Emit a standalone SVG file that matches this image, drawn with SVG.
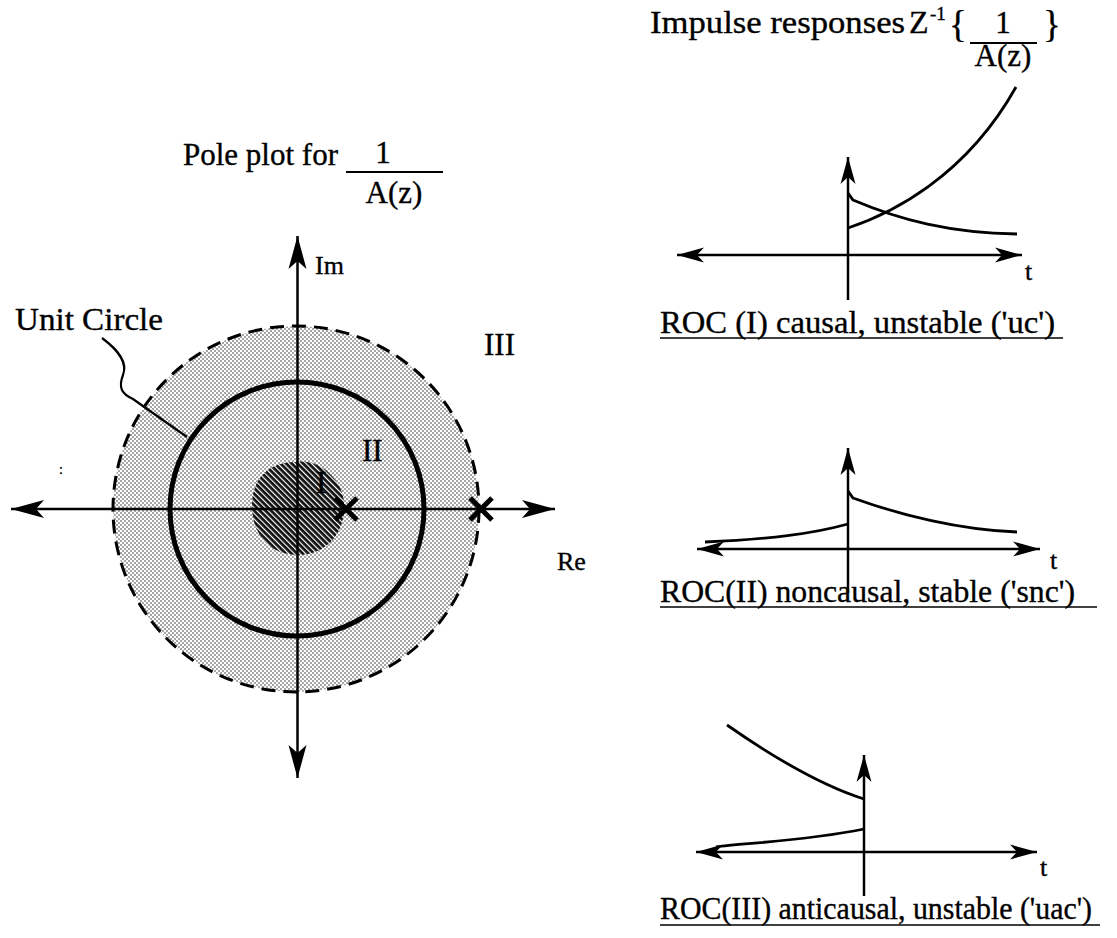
<svg xmlns="http://www.w3.org/2000/svg" width="1117" height="938" viewBox="0 0 1117 938">
<style>
text{font-family:"Liberation Serif","Times New Roman",serif;fill:#000;stroke:#000;stroke-width:0.35}
.t31{font-size:32px}
.t30{font-size:31px}
.t25{font-size:26px}
.ax{stroke:#000;stroke-width:2.5;fill:none}
.cv{stroke:#000;stroke-width:2.8;fill:none}
.ul{stroke:#000;stroke-width:1.5}
</style>
<defs>
<pattern id="dots" width="4" height="4" patternUnits="userSpaceOnUse">
<rect width="4" height="4" fill="#fff"/>
<circle cx="1" cy="1" r="0.8" fill="#333"/>
<circle cx="3" cy="3" r="0.8" fill="#333"/>
</pattern>
<pattern id="hatch" width="4" height="4" patternUnits="userSpaceOnUse" patternTransform="rotate(45)">
<rect width="4" height="4" fill="#fff"/>
<rect x="0" y="0" width="4" height="2.8" fill="#111"/>
</pattern>
<marker id="ahL" viewBox="-36 -10 37 20" refX="0" refY="0" markerWidth="37" markerHeight="20" markerUnits="userSpaceOnUse" orient="auto-start-reverse">
<path d="M0,0 L-33,-9 L-25,0 L-33,9 Z" fill="#000"/>
</marker>
<marker id="ahS" viewBox="-30 -8 31 16" refX="0" refY="0" markerWidth="31" markerHeight="16" markerUnits="userSpaceOnUse" orient="auto-start-reverse">
<path d="M0,0 L-27,-7.5 L-20,0 L-27,7.5 Z" fill="#000"/>
</marker>
</defs>
<rect width="1117" height="938" fill="#fff"/>

<g id="pole-plot-title">
<text class="t30" x="338" y="165" text-anchor="end">Pole plot for</text>
<text class="t30" x="383" y="163" text-anchor="middle">1</text>
<line x1="346" y1="172" x2="443" y2="172" stroke="#000" stroke-width="1.8"/>
<text class="t30" x="394" y="203" text-anchor="middle">A(z)</text>
</g>

<g id="region-III">
<circle cx="296" cy="509" r="183" fill="url(#dots)" stroke="#000" stroke-width="3" stroke-dasharray="14 8"/>
</g>
<g id="unit-circle">
<circle cx="297" cy="509" r="127" fill="none" stroke="#000" stroke-width="5"/>
</g>
<g id="region-I">
<path d="M252,505 C252,480 268,462 295,462 C310,460 322,466 330,474 C340,484 345,495 344,510 C343,535 325,555 298,555 C270,555 252,535 252,505 Z" fill="url(#hatch)"/>
</g>

<g id="connectors">
<line class="ax" x1="297.5" y1="778" x2="297.5" y2="236" marker-start="url(#ahL)" marker-end="url(#ahL)"/>
<line class="ax" x1="11" y1="509" x2="555" y2="509" marker-start="url(#ahL)" marker-end="url(#ahL)"/>
<path d="M102,338 C118,350 128,362 123,375 C118,388 122,394 133,399 L187,437" fill="none" stroke="#000" stroke-width="2.2"/>
</g>

<g id="poles">
<path d="M335,498 L357,520 M357,498 L335,520" stroke="#000" stroke-width="5"/>
<path d="M470,498 L492,520 M492,498 L470,520" stroke="#000" stroke-width="5"/>
</g>

<g id="pole-labels">
<text class="t25" x="315" y="274">Im</text>
<text class="t25" x="557" y="570">Re</text>
<text class="t31" x="15" y="330" textLength="148" lengthAdjust="spacingAndGlyphs">Unit Circle</text>
<text class="t30" x="484" y="355">III</text>
<text class="t30" x="362" y="461">II</text>
<text class="t30" x="316" y="493" fill="#222">I</text>
<text x="59" y="474" style="font-size:14px">:</text>
</g>

<g id="impulse-title">
<text class="t31" x="650" y="33" textLength="255" lengthAdjust="spacingAndGlyphs">Impulse responses</text>
<text class="t31" x="909" y="33">Z</text>
<text x="930" y="20" style="font-size:19px">-1</text>
<text x="949" y="37" style="font-size:37px">{</text>
<text class="t30" x="1003" y="33" text-anchor="middle">1</text>
<line x1="970" y1="43" x2="1037" y2="43" stroke="#000" stroke-width="1.8"/>
<text class="t30" x="1003" y="66" text-anchor="middle">A(z)</text>
<text x="1043" y="37" style="font-size:37px">}</text>
</g>

<g id="plot-uc">
<line class="ax" x1="848" y1="300" x2="848" y2="157" marker-end="url(#ahS)"/>
<line class="ax" x1="677" y1="255" x2="1022" y2="255" marker-start="url(#ahS)" marker-end="url(#ahS)"/>
<path class="cv" d="M848,228 C890,214 965,178 1016,87"/>
<path class="cv" d="M848,193 L853,200 C900,220 950,233 1017,234"/>
<text class="t25" x="1025" y="280">t</text>
<text class="t31" x="660" y="333" textLength="395" lengthAdjust="spacingAndGlyphs">ROC (I) causal, unstable ('uc')</text>
<line class="ul" x1="660" y1="338" x2="1063" y2="338"/>
</g>

<g id="plot-snc">
<line class="ax" x1="848" y1="593" x2="848" y2="448" marker-end="url(#ahS)"/>
<line class="ax" x1="697" y1="549" x2="1040" y2="549" marker-start="url(#ahS)" marker-end="url(#ahS)"/>
<path class="cv" d="M848,491 L853,498 C900,515 960,530 1017,532"/>
<path class="cv" d="M705,542 C770,539 812,534 848,524"/>
<text class="t25" x="1050" y="569">t</text>
<text class="t31" x="660" y="602" textLength="415" lengthAdjust="spacingAndGlyphs">ROC(II) noncausal, stable ('snc')</text>
<line class="ul" x1="660" y1="607" x2="1097" y2="607"/>
</g>

<g id="plot-uac">
<line class="ax" x1="864" y1="896" x2="864" y2="755" marker-end="url(#ahS)"/>
<line class="ax" x1="696" y1="852" x2="1037" y2="852" marker-start="url(#ahS)" marker-end="url(#ahS)"/>
<path class="cv" d="M727,725 C770,755 820,785 864,799"/>
<path class="cv" d="M716,847 C740,843 800,842 864,829"/>
<text class="t25" x="1040" y="876">t</text>
<text class="t30" x="660" y="919" textLength="432" lengthAdjust="spacingAndGlyphs">ROC(III) anticausal, unstable ('uac')</text>
<line class="ul" x1="660" y1="925" x2="1100" y2="925"/>
</g>
</svg>
